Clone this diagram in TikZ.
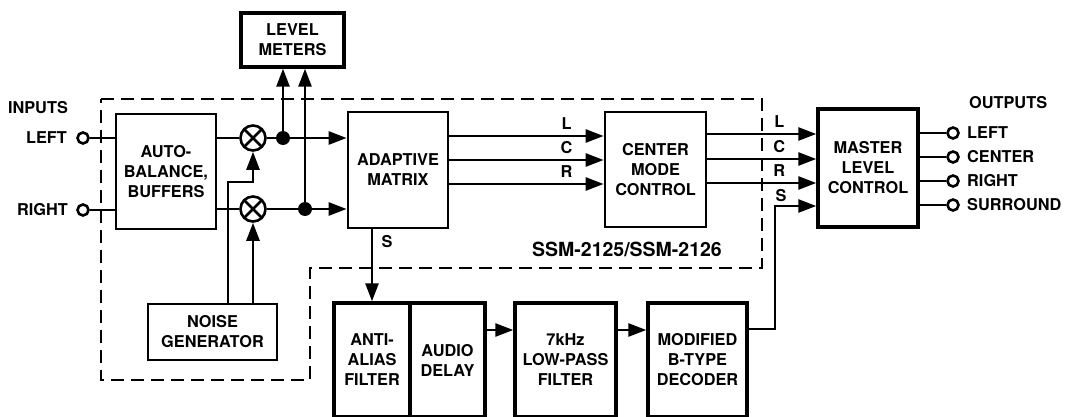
\documentclass[tikz,border=0pt]{standalone}
\usepackage{fontspec}
\setmainfont{TeX Gyre Heros}
\usetikzlibrary{arrows.meta}
\newcommand{\dtxt}{\bfseries\fontsize{16.3}{20}\selectfont}
\newcommand{\dbig}{\bfseries\fontsize{19.5}{23}\selectfont}
\begin{document}
\begin{tikzpicture}[x=1pt,y=-1pt,
  box/.style={draw, line width=3.4pt, align=center, inner sep=0pt, font=\dtxt},
  chipbox/.style={box, line width=2.7pt},
  wire/.style={line width=2.6pt},
  arr/.style={wire, -{Triangle[length=18pt,width=13pt]}},
  lbl/.style={font=\dtxt, inner sep=0pt},
  mult/.style={circle, draw, line width=2.6pt, minimum size=25pt, inner sep=0pt,
    path picture={\draw[line width=2.6pt] (path picture bounding box.north west)--(path picture bounding box.south east)
      (path picture bounding box.north east)--(path picture bounding box.south west);}},
  dotn/.style={circle, fill, minimum size=14pt, inner sep=0pt},
  port/.style={circle, draw, line width=2.6pt, minimum size=11pt, inner sep=0pt, fill=white},
  bound/.style={line width=2.6pt, dash pattern=on 13pt off 7pt},
]
\useasboundingbox (0,0) rectangle (1065,417);
\clip (0,0) rectangle (1065,417);

% chip boundary
\draw[bound] (101,99) -- (762,99) -- (762,268) -- (310,268) -- (310,380) -- (101,380) -- cycle;

% boxes
\node[box, minimum width=103pt, minimum height=54pt] (lm) at (292.5,40) {LEVEL\\METERS};
\node[chipbox, minimum width=100pt, minimum height=115pt] (ab) at (166,171.5) {AUTO-\\BALANCE,\\BUFFERS};
\node[chipbox, minimum width=100pt, minimum height=116pt] (am) at (398,170) {ADAPTIVE\\MATRIX};
\node[chipbox, minimum width=101pt, minimum height=115pt] (cm) at (655.5,169.5) {CENTER\\MODE\\CONTROL};
\node[box, minimum width=100pt, minimum height=118pt] (ml) at (868,168) {MASTER\\LEVEL\\CONTROL};
\node[chipbox, minimum width=129pt, minimum height=56pt] (ng) at (212.5,332) {NOISE\\GENERATOR};
\node[box, minimum width=76pt, minimum height=114pt] (aa) at (372,360) {ANTI-\\ALIAS\\FILTER};
\node[box, minimum width=75pt, minimum height=114pt] (ad) at (447.5,360) {AUDIO\\DELAY};
\node[box, minimum width=101pt, minimum height=114pt] (lp) at (565.5,360) {7kHz\\LOW-PASS\\FILTER};
\node[box, minimum width=99pt, minimum height=114pt] (mb) at (697.5,360) {MODIFIED\\B-TYPE\\DECODER};

% multipliers and junctions
\node[mult] (m1) at (253,138) {};
\node[mult] (m2) at (253,209) {};
\node[dotn] (d1) at (283,138) {};
\node[dotn] (d2) at (305,209) {};

% inputs
\node[lbl] (tin) at (38,108) {INPUTS};
\node[port] (in1) at (83,138) {};
\node[port] (in2) at (83,210) {};
\node[lbl, anchor=east] (tl) at (67,138) {LEFT};
\node[lbl, anchor=east] (tr) at (68,210) {RIGHT};
\draw[wire] (in1) -- (in1 -| ab.west);
\draw[wire] (in2) -- (in2 -| ab.west);

% front end
\draw[wire] (ab.east |- m1) -- (m1);
\draw[wire] (ab.east |- m2) -- (m2);
\draw[wire] (m1) -- (d1);
\draw[wire] (m2) -- (d2);
\draw[arr] (d1) -- (d1 -| am.west);
\draw[arr] (d2) -- (d2 -| am.west);
\draw[arr] (d1) -- (d1 |- lm.south);
\draw[arr] (d2) -- (d2 |- lm.south);

% noise generator
\coordinate (j1) at (228,182);
\draw[arr] (j1 |- ng.north) -- (j1) -| (m1.south);
\draw[arr] (m2 |- ng.north) -- (m2.south);

% matrix to center mode
\coordinate (yL1) at (0,136);
\coordinate (yC1) at (0,160);
\coordinate (yR1) at (0,184);
\draw[arr] (am.east |- yL1) -- node[lbl, above=5pt, pos=0.76] {L} (cm.west |- yL1);
\draw[arr] (am.east |- yC1) -- node[lbl, above=5pt, pos=0.76] {C} (cm.west |- yC1);
\draw[arr] (am.east |- yR1) -- node[lbl, above=5pt, pos=0.76] {R} (cm.west |- yR1);

% center mode to master
\coordinate (yL2) at (0,134);
\coordinate (yC2) at (0,159);
\coordinate (yR2) at (0,183);
\draw[arr] (cm.east |- yL2) -- node[lbl, above=5pt, pos=0.66] {L} (ml.west |- yL2);
\draw[arr] (cm.east |- yC2) -- node[lbl, above=5pt, pos=0.66] {C} (ml.west |- yC2);
\draw[arr] (cm.east |- yR2) -- node[lbl, above=5pt, pos=0.66] {R} (ml.west |- yR2);

% surround path
\draw[arr] (aa.north |- am.south) -- (aa.north);
\node[lbl] (tS1) at (387,242) {S};
\draw[arr] ([yshift=30pt]ad.east) -- ([yshift=30pt]lp.west);
\draw[arr] ([yshift=30pt]lp.east) -- ([yshift=30pt]mb.west);
\coordinate (sturn) at (775,206);
\draw[arr] ([yshift=31pt]mb.east) -| (sturn) -- (ml.west |- sturn);
\node[lbl] (tS2) at (781,196) {S};

% outputs
\node[lbl, anchor=west] (tout) at (969,103) {OUTPUTS};
\node[port] (o1) at (953,133) {};
\node[port] (o2) at (953,157) {};
\node[port] (o3) at (953,181) {};
\node[port] (o4) at (953,205) {};
\draw[wire] (ml.east |- o1) -- (o1);
\draw[wire] (ml.east |- o2) -- (o2);
\draw[wire] (ml.east |- o3) -- (o3);
\draw[wire] (ml.east |- o4) -- (o4);
\node[lbl, anchor=west] (to1) at (967,133) {LEFT};
\node[lbl, anchor=west] (to2) at (967,157) {CENTER};
\node[lbl, anchor=west] (to3) at (967,181) {RIGHT};
\node[lbl, anchor=west] (to4) at (967,205) {SURROUND};

% chip name
\node[font=\dbig, inner sep=0pt] (chip) at (627,249) {SSM-2125/SSM-2126};
\end{tikzpicture}
\end{document}
